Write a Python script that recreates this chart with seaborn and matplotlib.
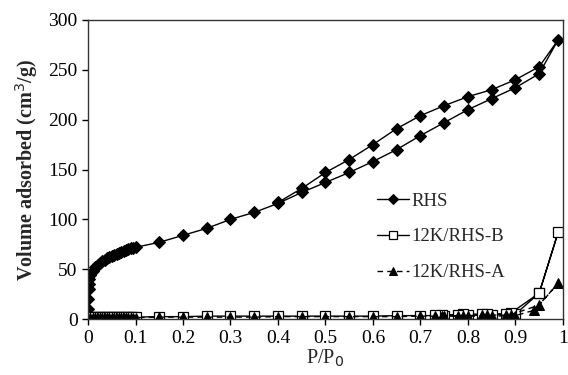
"""N2 adsorption-desorption isotherms: RHS vs 12K/RHS-B vs 12K/RHS-A."""
import matplotlib
matplotlib.use('Agg')
import matplotlib.pyplot as plt
import seaborn as sns

# RHS: adsorption branch then desorption branch
rhs_ads_x = [0.0003, 0.0006, 0.001, 0.002, 0.003, 0.005, 0.01, 0.015, 0.02, 0.025,
             0.03, 0.035, 0.04, 0.045, 0.05, 0.055, 0.06, 0.065, 0.07, 0.075,
             0.08, 0.085, 0.09, 0.095, 0.1, 0.15, 0.2, 0.25, 0.3, 0.35,
             0.4, 0.45, 0.5, 0.55, 0.6, 0.65, 0.7, 0.75, 0.8, 0.85,
             0.9, 0.95, 0.99]
rhs_ads_y = [10, 20, 30, 35, 40, 44, 48, 52, 54, 56,
             58, 59.5, 61, 62.5, 63.5, 64.5, 65.5, 66.5, 67.5, 68.5,
             69.5, 70, 71, 71.5, 72, 77, 84, 91, 100, 107,
             116, 127, 137, 147, 158, 170, 184, 197, 210, 221,
             232, 246, 280]
rhs_des_x = [0.95, 0.9, 0.85, 0.8, 0.75, 0.7, 0.65, 0.6, 0.55, 0.5, 0.45, 0.4]
rhs_des_y = [253, 240, 230, 223, 214, 204, 191, 175, 160, 147, 131, 117]

# 12K/RHS-B
b_ads_x = [0.005, 0.01, 0.015, 0.02, 0.025, 0.03, 0.035, 0.04, 0.045, 0.05,
           0.055, 0.06, 0.065, 0.07, 0.075, 0.08, 0.085, 0.09, 0.095, 0.1,
           0.15, 0.2, 0.25, 0.3, 0.35, 0.4, 0.45, 0.5, 0.55, 0.6,
           0.65, 0.7, 0.75, 0.8, 0.85, 0.9, 0.95, 0.99]
b_ads_y = [2, 2, 2, 2, 2, 2, 2, 2, 2, 2,
           2, 2, 2, 2, 2, 2, 2, 2, 2, 2,
           2.5, 2.5, 3, 3, 3, 3, 3, 3, 3, 3,
           3.5, 3.5, 3.5, 4, 4, 5, 26, 87]
b_des_x = [0.95, 0.89, 0.88, 0.84, 0.83, 0.79, 0.78, 0.745, 0.73]
b_des_y = [26, 6, 5.5, 5, 5, 5, 4.5, 4.5, 4.5]

# 12K/RHS-A
a_ads_x = b_ads_x[:-2] + [0.94, 0.99]
a_ads_y = [1.5] * 20 + [2, 2, 2, 2, 2, 2.5, 2.5, 2.5, 2.5, 2.5,
                        2.5, 3, 3, 3, 3, 3.5, 9, 36]
a_des_x = [0.95, 0.89, 0.88, 0.84, 0.83, 0.79, 0.78, 0.745, 0.73]
a_des_y = [14, 4.5, 4, 4, 4, 3.5, 3.5, 3.5, 3.5]

sns.set_style('ticks')
plt.rcParams['font.family'] = ['Liberation Serif', 'DejaVu Serif']

fig = plt.figure(figsize=(5.68, 3.75), dpi=100)
ax = fig.add_axes([0.155, 0.149, 0.836, 0.798])

sns.lineplot(x=rhs_ads_x + rhs_des_x, y=rhs_ads_y + rhs_des_y, sort=False, estimator=None,
             ax=ax, color='black', lw=1, marker='D', ms=6.5, mec='black', mfc='black',
             label='RHS')
sns.lineplot(x=b_ads_x + b_des_x, y=b_ads_y + b_des_y, sort=False, estimator=None,
             ax=ax, color='black', lw=1, marker='s', ms=6.5, mec='black', mfc='white',
             mew=0.9, label='12K/RHS-B')
sns.lineplot(x=a_ads_x + a_des_x, y=a_ads_y + a_des_y, sort=False, estimator=None,
             ax=ax, color='black', lw=1, ls=(0, (4, 3)), marker='^', ms=6.5,
             mec='black', mfc='black', label='12K/RHS-A')

ax.set_xlim(0, 1)
ax.set_ylim(0, 300)
ax.set_xticks([0, 0.1, 0.2, 0.3, 0.4, 0.5, 0.6, 0.7, 0.8, 0.9, 1])
ax.set_xticklabels(['0', '0.1', '0.2', '0.3', '0.4', '0.5', '0.6', '0.7', '0.8', '0.9', '1'])
ax.set_yticks([0, 50, 100, 150, 200, 250, 300])
ax.tick_params(labelsize=14, length=4, width=1, direction='out', colors='black')
for s in ax.spines.values():
    s.set_linewidth(1); s.set_color('#333333')

ax.set_xlabel('P/P$_0$', fontsize=14.5, labelpad=1)
ax.set_ylabel('Volume adsorbed (cm$^3$/g)', fontsize=14.5, fontweight='bold', labelpad=6)

ax.legend(loc='center left', bbox_to_anchor=(0.588, 0.275), frameon=False, fontsize=13.5,
          handlelength=1.7, handletextpad=0.15, labelspacing=1.0, borderpad=0,
          markerscale=0.8)

plt.savefig('out.png', dpi=100); plt.close()
